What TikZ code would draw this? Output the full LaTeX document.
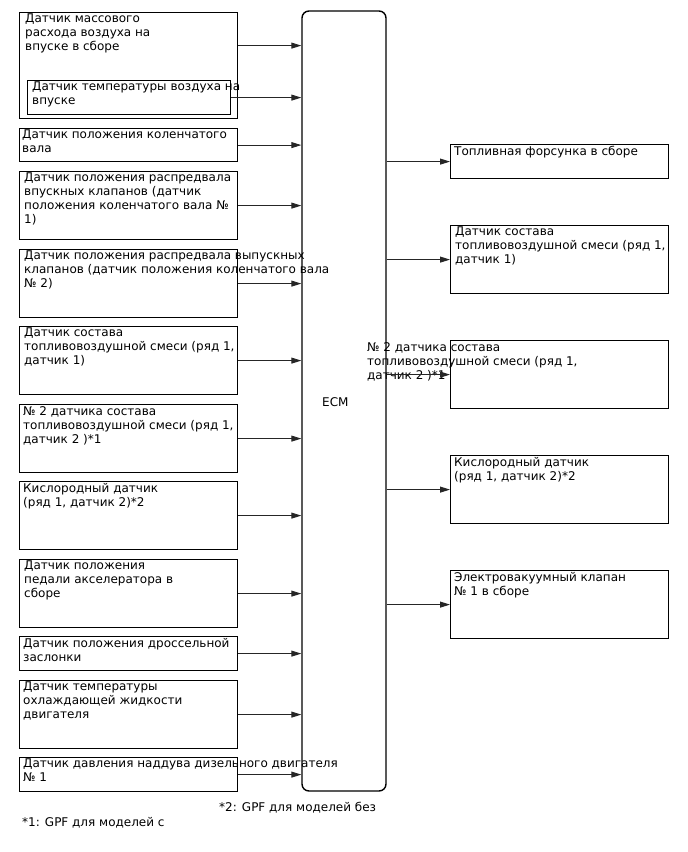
\documentclass[tikz,border=0pt]{standalone}
\usepackage{fontspec}
\setmainfont{DejaVu Sans}
\usetikzlibrary{arrows.meta}
\begin{document}
\begin{tikzpicture}[x=1pt,y=-1pt,
  box/.style={draw, line width=1.2pt, inner sep=0pt, anchor=north west},
  txt/.style={anchor=north west, inner sep=0pt, align=left, font=\fontsize{12}{14}\selectfont},
  arr/.style={draw=black!85, line width=0.9pt, -{Triangle[length=10pt,width=6pt]}},
  ecmbox/.style={draw, line width=1.4pt, rounded corners=7pt, inner sep=0pt}]
\useasboundingbox (0,0) rectangle (688,852);

% ECM
\node[ecmbox, minimum width=84pt, minimum height=780pt] (ECM) at (344,401) {};
\node[txt, anchor=west] (ECMt) at (322,402) {ECM};

% left boxes
\node[box, minimum width=218pt, minimum height=106pt] (L1) at (19,12) {};
\node[txt] (L1t) at (25,14) {Датчик массового\\расхода воздуха на\\впуске в сборе};
\node[box, minimum width=203pt, minimum height=34pt] (L1i) at (27,80) {};
\node[txt] (L1it) at (32,82) {Датчик температуры воздуха на\\впуске};

\node[box, minimum width=218pt, minimum height=33pt] (L2) at (19,128) {};
\node[txt] (L2t) at (22,130) {Датчик положения коленчатого\\вала};

\node[box, minimum width=218pt, minimum height=68pt] (L3) at (19,171) {};
\node[txt] (L3t) at (24,173) {Датчик положения распредвала\\впускных клапанов (датчик\\положения коленчатого вала №\\1)};

\node[box, minimum width=218pt, minimum height=68pt] (L4) at (19,249) {};
\node[txt] (L4t) at (24,251) {Датчик положения распредвала выпускных\\клапанов (датчик положения коленчатого вала\\№ 2)};

\node[box, minimum width=218pt, minimum height=68pt] (L5) at (19,326) {};
\node[txt] (L5t) at (24,328) {Датчик состава\\топливовоздушной смеси (ряд 1,\\датчик 1)};

\node[box, minimum width=218pt, minimum height=68pt] (L6) at (19,404) {};
\node[txt] (L6t) at (23,406) {№ 2 датчика состава\\топливовоздушной смеси (ряд 1,\\датчик 2 )*1};

\node[box, minimum width=218pt, minimum height=68pt] (L7) at (19,481) {};
\node[txt] (L7t) at (23,483) {Кислородный датчик\\(ряд 1, датчик 2)*2};

\node[box, minimum width=218pt, minimum height=68pt] (L8) at (19,559) {};
\node[txt] (L8t) at (24,561) {Датчик положения\\педали акселератора в\\сборе};

\node[box, minimum width=218pt, minimum height=34pt] (L9) at (19,636) {};
\node[txt] (L9t) at (23,638) {Датчик положения дроссельной\\заслонки};

\node[box, minimum width=218pt, minimum height=68pt] (L10) at (19,680) {};
\node[txt] (L10t) at (23,682) {Датчик температуры\\охлаждающей жидкости\\двигателя};

\node[box, minimum width=218pt, minimum height=34pt] (L11) at (19,757) {};
\node[txt] (L11t) at (23,759) {Датчик давления наддува дизельного двигателя\\№ 1};

% right boxes
\node[box, minimum width=218pt, minimum height=34pt] (R1) at (450,144) {};
\node[txt] (R1t) at (454,146) {Топливная форсунка в сборе};

\node[box, minimum width=218pt, minimum height=68pt] (R2) at (450,225) {};
\node[txt] (R2t) at (455,227) {Датчик состава\\топливовоздушной смеси (ряд 1,\\датчик 1)};

\node[box, minimum width=218pt, minimum height=68pt] (R3) at (450,340) {};
\node[txt] (R3t) at (367,342) {№ 2 датчика состава\\топливовоздушной смеси (ряд 1,\\датчик 2 )*1};

\node[box, minimum width=218pt, minimum height=68pt] (R4) at (450,455) {};
\node[txt] (R4t) at (454,457) {Кислородный датчик\\(ряд 1, датчик 2)*2};

\node[box, minimum width=218pt, minimum height=68pt] (R5) at (450,570) {};
\node[txt] (R5t) at (454,572) {Электровакуумный клапан\\№ 1 в сборе};

% footnotes
\node[txt] (F2) at (219,802) {*2: GPF для моделей без};
\node[txt] (F1) at (22,817) {*1: GPF для моделей с};

% arrows into ECM
\draw[arr] ([yshift=20pt]L1.east) -- ([yshift=20pt]L1.east -| ECM.west);
\draw[arr] (L1i.east) -- (L1i.east -| ECM.west);
\foreach \n in {L2,L3,L4,L5,L6,L7,L8,L9,L10,L11}
  \draw[arr] (\n.east) -- (\n.east -| ECM.west);
% arrows out of ECM
\foreach \n in {R1,R2,R3,R4,R5}
  \draw[arr] (\n.west -| ECM.east) -- (\n.west);
\end{tikzpicture}
\end{document}
